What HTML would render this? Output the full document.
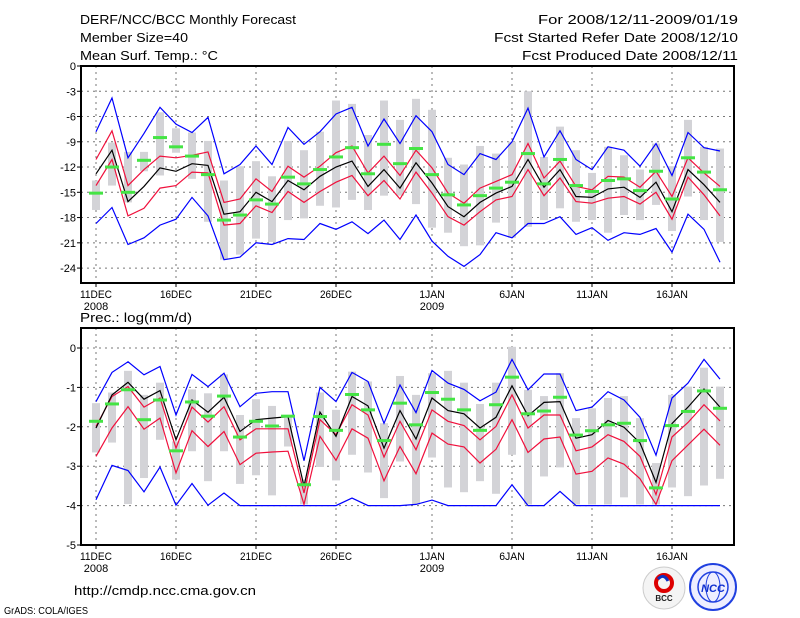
<!DOCTYPE html>
<html><head><meta charset="utf-8"><style>
html,body{margin:0;padding:0;background:#fff;}
svg{display:block;font-family:"Liberation Sans",sans-serif;}
</style></head><body>
<svg id="chart" width="800" height="618" viewBox="0 0 800 618" xmlns="http://www.w3.org/2000/svg">
<g font-size="13" fill="#000">
<text x="80" y="24" textLength="216" lengthAdjust="spacingAndGlyphs">DERF/NCC/BCC Monthly Forecast</text>
<text x="80" y="42" textLength="108" lengthAdjust="spacingAndGlyphs">Member Size=40</text>
<text x="80" y="60" textLength="138" lengthAdjust="spacingAndGlyphs">Mean Surf. Temp.: °C</text>
<text x="738" y="24" text-anchor="end" textLength="200" lengthAdjust="spacingAndGlyphs">For 2008/12/11-2009/01/19</text>
<text x="738" y="42" text-anchor="end" textLength="244" lengthAdjust="spacingAndGlyphs">Fcst Started Refer Date 2008/12/10</text>
<text x="738" y="60" text-anchor="end" textLength="216" lengthAdjust="spacingAndGlyphs">Fcst Produced Date 2008/12/11</text>
<text x="80" y="322" textLength="112" lengthAdjust="spacingAndGlyphs">Prec.: log(mm/d)</text>
<text x="74" y="595" textLength="182" lengthAdjust="spacingAndGlyphs">http://cmdp.ncc.cma.gov.cn</text>
<text x="4" y="614" font-size="10" textLength="84" lengthAdjust="spacingAndGlyphs">GrADS: COLA/IGES</text>
</g>
<g>
<circle cx="664" cy="588" r="21" fill="#f4f4f4" stroke="#ccc"/>
<circle cx="664" cy="583" r="8" fill="none" stroke="#d00" stroke-width="4"/>
<path d="M658 579 q6 -6 10 2" stroke="#1030c0" stroke-width="3" fill="none"/>
<text x="664" y="601" font-size="8" text-anchor="middle" fill="#222" font-weight="bold">BCC</text>
</g>
<g>
<circle cx="713" cy="587" r="23" fill="#eef" stroke="#2040e0" stroke-width="2"/>
<circle cx="713" cy="587" r="15" fill="none" stroke="#2040e0" stroke-width="1.5"/>
<ellipse cx="713" cy="587" rx="7" ry="15" fill="none" stroke="#2040e0"/>
<text x="713" y="592" font-size="11" text-anchor="middle" fill="#1030d0" font-weight="bold" font-style="italic">NCC</text>
</g>
<g id="topPanel"></g>
<g id="botPanel"></g>
</svg>
<script>
// shared x axis
const days = Array.from({length:40},(_, i)=>i);
const tickDays = [0,5,10,15,21,26,31,36];
const tickLabels = ["11DEC","16DEC","21DEC","26DEC","1JAN","6JAN","11JAN","16JAN"];
const yearLabels = ["2008","","","","2009","","",""];

// temperature panel
const tBlueHi = [-7.8,-3.8,-10.9,-8.0,-4.9,-6.9,-7.9,-6.1,-12.8,-11.7,-9.5,-11.7,-7.3,-9.3,-7.8,-5.7,-4.9,-9.5,-6.3,-9.2,-5.9,-7.8,-11.7,-12.9,-10.4,-11.1,-9.0,-5.0,-10.8,-7.7,-11.1,-12.3,-9.6,-10.0,-11.9,-9.2,-13.0,-7.9,-9.7,-10.1];
const tRedHi = [-11.1,-7.7,-14.2,-12.3,-10.7,-10.9,-10.6,-10.2,-16.2,-15.8,-13.4,-14.9,-11.9,-13.2,-11.9,-10.3,-9.5,-12.7,-10.7,-13.0,-10.0,-12.1,-15.1,-16.3,-14.5,-13.7,-12.9,-9.2,-13.3,-11.3,-14.3,-14.7,-13.1,-13.2,-14.4,-12.5,-15.5,-10.9,-12.7,-14.3];
const tMean = [-12.8,-10.0,-16.1,-14.3,-12.1,-12.5,-11.6,-11.8,-17.6,-17.3,-15.0,-16.1,-13.6,-14.7,-13.1,-12.0,-11.3,-14.3,-12.3,-14.5,-11.5,-13.9,-16.7,-17.9,-16.2,-15.1,-14.3,-11.1,-14.4,-12.3,-15.5,-15.6,-14.6,-14.4,-15.6,-13.8,-17.3,-12.3,-14.1,-16.2];
const tRedLo = [-14.2,-11.1,-17.8,-16.9,-14.5,-14.2,-12.6,-12.7,-18.9,-18.7,-16.6,-17.4,-14.9,-16.2,-14.9,-13.8,-13.0,-15.4,-13.6,-15.8,-12.6,-15.1,-17.9,-18.9,-17.3,-15.9,-15.5,-12.3,-15.4,-13.3,-16.1,-16.3,-15.7,-15.5,-16.4,-15.0,-18.2,-13.2,-15.3,-17.8];
const tBlueLo = [-18.7,-16.8,-21.2,-20.4,-18.9,-18.2,-15.6,-17.8,-23.0,-22.7,-21.0,-21.2,-20.5,-20.6,-18.7,-19.4,-18.5,-19.9,-18.3,-20.6,-17.7,-20.8,-22.6,-23.8,-22.4,-19.8,-20.4,-18.7,-18.7,-17.9,-20.0,-19.2,-20.7,-19.8,-20.0,-19.3,-22.1,-17.6,-19.4,-23.3];
const tObs = [-15.1,-12.0,-15.0,-11.2,-8.5,-9.6,-10.7,-12.9,-18.3,-17.7,-15.9,-16.4,-13.2,-14.0,-12.3,-10.8,-9.7,-12.8,-9.3,-11.6,-9.8,-12.9,-15.3,-16.5,-15.4,-14.5,-13.8,-10.4,-14.0,-11.1,-14.2,-14.9,-13.6,-13.4,-14.8,-12.5,-15.8,-10.9,-12.6,-14.7];
const tBarHi = [-13.6,-9.1,-10.2,-10.2,-5.5,-7.4,-7.9,-8.9,-13.6,-11.9,-11.3,-13.1,-8.9,-10.0,-7.8,-4.1,-4.5,-8.2,-4.1,-6.4,-3.9,-5.2,-10.9,-11.7,-9.5,-10.4,-9.0,-3.0,-10.8,-7.2,-10.0,-12.7,-9.6,-10.6,-12.3,-9.2,-11.9,-6.4,-9.6,-9.8];
const tBarLo = [-17.1,-14.2,-16.2,-12.5,-13.0,-10.3,-13.4,-18.5,-23.0,-22.4,-20.5,-20.9,-18.3,-18.1,-16.6,-16.8,-15.9,-17.1,-15.4,-15.4,-16.4,-19.2,-19.8,-21.4,-21.3,-18.6,-20.4,-19.1,-18.3,-16.9,-18.5,-18.3,-19.8,-17.7,-18.3,-16.5,-19.6,-15.5,-18.3,-20.9];
const tTicks = [0,-3,-6,-9,-12,-15,-18,-21,-24];

// precipitation panel
const pBlueHi = [-1.36,-0.62,-0.35,-0.68,-0.47,-1.70,-0.67,-0.98,-0.64,-1.49,-1.15,-1.11,-1.11,-2.86,-1.00,-1.36,-0.62,-0.85,-1.91,-0.94,-1.64,-0.57,-0.89,-1.05,-1.34,-1.12,-0.29,-1.06,-0.66,-0.66,-1.59,-1.50,-1.11,-1.32,-1.76,-2.72,-1.27,-0.89,-0.29,-0.79];
const pRedHi = [-1.99,-1.23,-0.98,-1.50,-1.27,-2.54,-1.50,-1.88,-1.49,-2.33,-2.05,-2.05,-2.05,-3.68,-1.82,-2.20,-1.44,-1.70,-2.77,-1.86,-2.58,-1.57,-1.86,-1.97,-2.33,-1.99,-1.19,-2.03,-1.70,-1.70,-2.61,-2.51,-2.20,-2.37,-2.75,-3.72,-2.26,-1.89,-1.44,-1.85];
const pMean = [-2.03,-1.19,-0.87,-1.30,-1.08,-2.33,-1.32,-1.63,-1.25,-2.12,-1.82,-1.78,-1.74,-3.51,-1.63,-2.24,-1.23,-1.47,-2.54,-1.59,-2.31,-1.27,-1.59,-1.67,-2.03,-1.76,-0.96,-1.72,-1.38,-1.36,-2.29,-2.20,-1.84,-2.01,-2.41,-3.41,-1.92,-1.50,-1.04,-1.50];
const pRedLo = [-2.75,-2.03,-1.49,-2.06,-1.78,-3.17,-2.10,-2.50,-2.12,-2.96,-2.67,-2.64,-2.62,-3.97,-2.24,-2.85,-2.05,-2.29,-3.37,-2.50,-3.19,-2.16,-2.44,-2.51,-2.92,-2.57,-1.82,-2.65,-2.31,-2.26,-3.20,-3.13,-2.79,-2.95,-3.32,-3.97,-2.86,-2.46,-2.06,-2.47];
const pBlueLo = [-3.85,-2.98,-3.11,-3.65,-3.02,-3.99,-3.44,-3.99,-3.68,-4,-4,-4,-4,-4,-4,-4,-3.81,-4,-4,-4,-3.97,-3.86,-4,-4,-4,-4,-3.47,-4,-4,-3.64,-4,-4,-4,-4,-4,-4,-4,-4,-4,-4];
const pObs = [-1.86,-1.42,-1.06,-1.82,-1.32,-2.61,-1.37,-1.73,-1.22,-2.26,-1.86,-1.98,-1.73,-3.47,-1.74,-2.09,-1.18,-1.57,-2.35,-1.40,-1.95,-1.13,-1.30,-1.57,-2.09,-1.44,-0.74,-1.67,-1.60,-1.25,-2.21,-2.10,-1.95,-1.91,-2.35,-3.55,-1.97,-1.61,-1.09,-1.53];
const pBarHi = [-1.40,-1.13,-0.58,-1.19,-0.88,-2.37,-1.05,-1.15,-0.67,-1.70,-1.30,-1.47,-1.70,-3.34,-1.13,-1.57,-0.60,-0.85,-1.91,-0.71,-1.19,-0.64,-0.58,-0.88,-1.42,-0.88,0.03,-1.06,-1.22,-0.64,-1.78,-1.53,-1.27,-1.22,-1.78,-2.92,-1.19,-0.98,-0.50,-0.98];
const pBarLo = [-2.65,-2.40,-3.96,-3.30,-2.33,-3.34,-2.62,-3.38,-2.62,-3.45,-3.23,-3.74,-2.50,-3.97,-3.02,-3.36,-2.71,-3.16,-3.81,-2.88,-3.97,-2.78,-3.54,-3.66,-3.38,-3.70,-2.71,-3.97,-3.26,-3.03,-3.97,-3.97,-3.97,-3.79,-3.97,-3.97,-3.54,-3.76,-3.49,-3.32];
const pTicks = [0,-1,-2,-3,-4,-5];

const NS="http://www.w3.org/2000/svg";
const X0=81, X1=734;
function xS(i){return 96+16*i;}
function mk(parent,tag,attrs){const e=document.createElementNS(NS,tag);for(const k in attrs)e.setAttribute(k,attrs[k]);parent.appendChild(e);return e;}

function panel(g, cfg){
  const y=cfg.y;
  cfg.ticks.forEach(t=>{
    const l=mk(g,'line',{x1:X0,x2:X1,y1:y(t),y2:y(t),stroke:'#777','stroke-dasharray':'2,4','stroke-width':1});
    
    
  });
  tickDays.forEach(d=>{
    const l=mk(g,'line',{x1:xS(d),x2:xS(d),y1:cfg.top,y2:cfg.bot,stroke:'#777','stroke-dasharray':'2,4','stroke-width':1});
    
    
  });
  days.forEach(i=>{
    const a=y(cfg.barHi[i]), b=y(cfg.barLo[i]);
    const r=mk(g,'rect',{x:xS(i)-4,y:Math.min(a,b),width:8,height:Math.abs(b-a),fill:'#d3d3d7'});
    
    
  });
  const line=(arr,col,name)=>{
    const p=mk(g,'polyline',{points:arr.map((v,i)=>xS(i)+','+y(v).toFixed(1)).join(' '),fill:'none',stroke:col,'stroke-width':1.2});
    
    
  };
  line(cfg.blueHi,'#0000ff','max-line');
  line(cfg.blueLo,'#0000ff','min-line');
  line(cfg.redHi,'#f0103c','upper-spread-line');
  line(cfg.redLo,'#f0103c','lower-spread-line');
  line(cfg.mean,'#000','ensemble-mean-line');
  days.forEach(i=>{
    const r=mk(g,'rect',{x:xS(i)-7,y:y(cfg.obs[i])-1.5,width:14,height:3,fill:'#44e444'});
    
    
  });
  const f=mk(g,'rect',{x:X0,y:cfg.top,width:X1-X0,height:cfg.bot-cfg.top,fill:'none',stroke:'#000','stroke-width':2});
  
  
  cfg.ticks.forEach(t=>{
    const l=mk(g,'line',{x1:X0-4,x2:X0,y1:y(t),y2:y(t),stroke:'#000'});
    
    
    const tx=mk(g,'text',{x:X0-5,y:y(t)+4,'text-anchor':'end','font-size':11});
    tx.textContent=String(t);
    
    
  });
  tickDays.forEach((d,k)=>{
    const l=mk(g,'line',{x1:xS(d),x2:xS(d),y1:cfg.bot,y2:cfg.bot+4,stroke:'#000'});
    
    
    const tx=mk(g,'text',{x:xS(d),y:cfg.bot+15,'text-anchor':'middle','font-size':11,textLength:tickLabels[k].length*6.4,lengthAdjust:'spacingAndGlyphs'});
    tx.textContent=tickLabels[k];
    
    
    if(yearLabels[k]){
      const ty=mk(g,'text',{x:xS(d),y:cfg.bot+27,'text-anchor':'middle','font-size':11});
      ty.textContent=yearLabels[k];
      
      
    }
  });
}
const topG=document.getElementById('topPanel');


panel(topG,{y:v=>66-v*8.42,top:66,bot:283,ticks:tTicks,barHi:tBarHi,barLo:tBarLo,blueHi:tBlueHi,blueLo:tBlueLo,redHi:tRedHi,redLo:tRedLo,mean:tMean,obs:tObs});
const botG=document.getElementById('botPanel');


panel(botG,{y:v=>348-v*39.4,top:328,bot:545,ticks:pTicks,barHi:pBarHi,barLo:pBarLo,blueHi:pBlueHi,blueLo:pBlueLo,redHi:pRedHi,redLo:pRedLo,mean:pMean,obs:pObs});
</script>
</body></html>
